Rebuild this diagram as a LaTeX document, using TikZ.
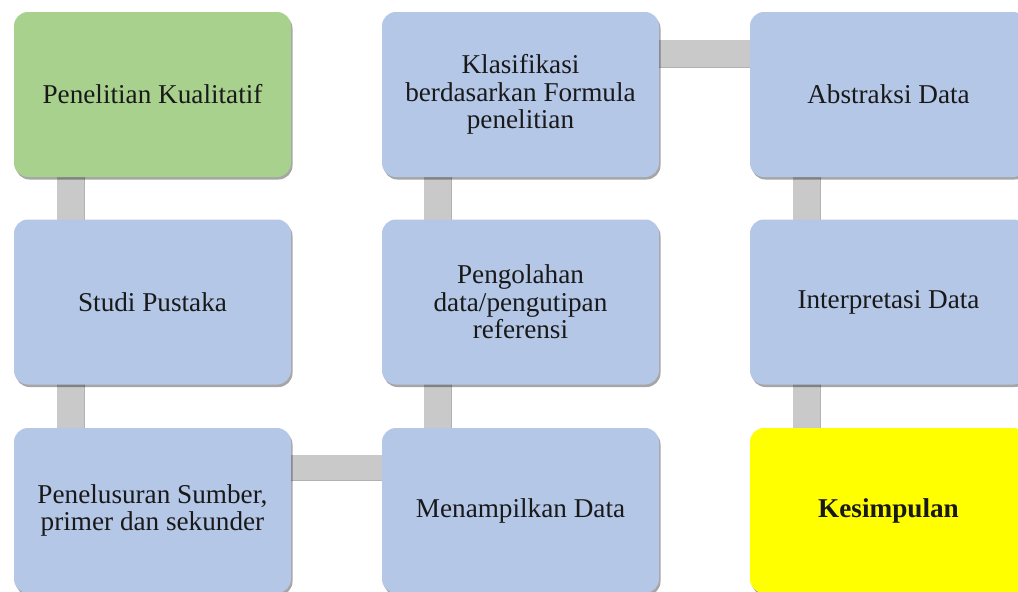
\documentclass[tikz,border=0pt]{standalone}
\usepackage{fontspec}
\setmainfont{Liberation Serif}
\usetikzlibrary{shadows}
\pgfdeclarelayer{background}
\pgfsetlayers{background,main}
\definecolor{boxgreen}{HTML}{A9D18E}
\definecolor{boxblue}{HTML}{B4C7E7}
\definecolor{boxyellow}{HTML}{FFFF00}
\definecolor{bargray}{HTML}{C9C9C9}
\tikzset{
  stepbox/.style={rectangle, rounded corners=14pt, minimum width=277pt, minimum height=165pt,
    inner sep=0pt, align=center, text=black!90,
    font=\fontsize{27.2}{27.5}\selectfont,
    drop shadow={shadow xshift=1.5pt, shadow yshift=-2.5pt, opacity=0.35, fill=black}},
  barv/.style={fill=bargray, drop shadow={shadow xshift=1.5pt, shadow yshift=-1.5pt, opacity=0.3, fill=black}},
}
\begin{document}
\begin{tikzpicture}[x=1pt,y=-1pt]
\clip (0,0) rectangle (1018,592);
% column centers 152.5, 520.5, 888.5 ; row centers 94.5, 302, 510.5
\node[stepbox, fill=boxgreen] (a) at (152.5,94.5) {Penelitian Kualitatif};
\node[stepbox, fill=boxblue] (b) at (152.5,302) {Studi Pustaka};
\node[stepbox, fill=boxblue] (c) at (152.5,510.5) {Penelusuran Sumber,\\primer dan sekunder};
\node[stepbox, fill=boxblue] (d) at (520.5,510.5) {Menampilkan Data};
\node[stepbox, fill=boxblue] (e) at (520.5,302) {Pengolahan\\data/pengutipan\\referensi};
\node[stepbox, fill=boxblue] (f) at (520.5,94.5) {Klasifikasi\\berdasarkan Formula\\penelitian};
\node[stepbox, fill=boxblue] (g) at (888.5,94.5) {Abstraksi Data};
\node[stepbox, fill=boxblue] (h) at (888.5,302) {Interpretasi Data};
\node[stepbox, fill=boxyellow, font=\fontsize{27.2}{27.5}\selectfont\bfseries] (i) at (888.5,510.5) {Kesimpulan};
\begin{pgfonlayer}{background}
\clip (0,0) rectangle (1018,592);
\fill[white] (0,0) rectangle (1018,592);
\fill[barv] ([xshift=43pt,yshift=6pt]a.south west) rectangle ([xshift=70pt,yshift=-6pt]b.north west);
\fill[barv] ([xshift=43pt,yshift=6pt]b.south west) rectangle ([xshift=70pt,yshift=-6pt]c.north west);
\fill[barv] ([xshift=-6pt,yshift=-27pt]c.north east) rectangle ([xshift=6pt,yshift=-52pt]d.north west);
\fill[barv] ([xshift=42pt,yshift=-6pt]d.north west) rectangle ([xshift=69pt,yshift=6pt]e.south west);
\fill[barv] ([xshift=42pt,yshift=-6pt]e.north west) rectangle ([xshift=69pt,yshift=6pt]f.south west);
\fill[barv] ([xshift=-6pt,yshift=-28pt]f.north east) rectangle ([xshift=6pt,yshift=-55pt]g.north west);
\fill[barv] ([xshift=43pt,yshift=6pt]g.south west) rectangle ([xshift=70pt,yshift=-6pt]h.north west);
\fill[barv] ([xshift=43pt,yshift=6pt]h.south west) rectangle ([xshift=70pt,yshift=-6pt]i.north west);
\end{pgfonlayer}
\end{tikzpicture}
\end{document}
